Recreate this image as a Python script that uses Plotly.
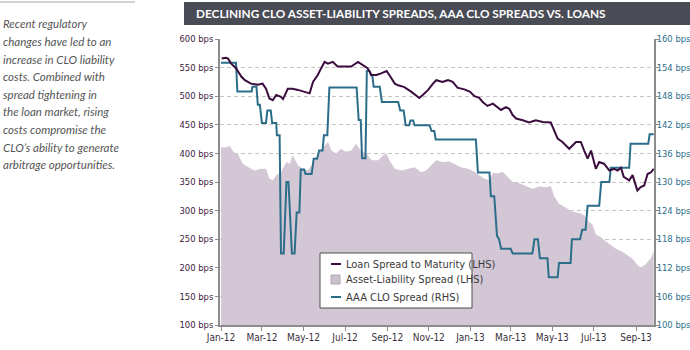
import plotly.graph_objects as go

# ---------------- data ----------------
loan_dates = ["2012-01-02","2012-01-08","2012-01-11","2012-01-16","2012-01-23","2012-01-31","2012-02-05","2012-02-14",
    "2012-02-24","2012-03-02","2012-03-07","2012-03-12","2012-03-17","2012-03-22","2012-03-29","2012-04-01","2012-04-08",
    "2012-04-15","2012-04-23","2012-05-02","2012-05-10","2012-05-15","2012-05-22","2012-05-27","2012-06-01","2012-06-06",
    "2012-06-13","2012-06-20","2012-06-30","2012-07-10","2012-07-20","2012-07-27","2012-08-03","2012-08-09","2012-08-16",
    "2012-08-23","2012-08-31","2012-09-04","2012-09-12","2012-09-17","2012-09-26","2012-10-06","2012-10-13","2012-10-18",
    "2012-10-23","2012-10-31","2012-11-07","2012-11-12","2012-11-21","2012-11-29","2012-12-06","2012-12-13","2012-12-23",
    "2012-12-31","2013-01-07","2013-01-14","2013-01-19","2013-01-26","2013-02-03","2013-02-10","2013-02-15","2013-02-22",
    "2013-02-27","2013-03-04","2013-03-09","2013-03-19","2013-03-28","2013-04-07","2013-04-17","2013-04-29","2013-05-04",
    "2013-05-09","2013-05-16","2013-05-26","2013-06-05","2013-06-12","2013-06-17","2013-06-22","2013-06-27","2013-07-04",
    "2013-07-09","2013-07-16","2013-07-24","2013-07-31","2013-08-05","2013-08-10","2013-08-14","2013-08-22","2013-08-27",
    "2013-09-03","2013-09-08","2013-09-13","2013-09-18","2013-09-23","2013-09-27"]
loan_spread = [566,567,566,557,549,534,528,522,520,522,513,496,493,502,499,495,513,513,511,508,505,525,537,549,560,557,
    560,552,552,552,560,554,549,537,537,540,544,537,522,519,516,508,502,497,502,511,522,528,525,528,525,515,512,508,
    500,497,490,483,487,480,476,481,478,467,461,458,454,458,455,454,441,426,420,408,420,420,405,391,405,373,385,382,
    370,373,370,375,359,353,362,335,341,344,364,367,373]

al_dates = ["2012-01-01","2012-01-06","2012-01-14","2012-01-19","2012-01-26","2012-02-02","2012-02-10","2012-02-19",
    "2012-02-29","2012-03-07","2012-03-12","2012-03-17","2012-03-22","2012-03-29","2012-04-06","2012-04-11","2012-04-15",
    "2012-04-23","2012-04-30","2012-05-07","2012-05-15","2012-05-22","2012-06-01","2012-06-06","2012-06-11","2012-06-18",
    "2012-06-25","2012-07-02","2012-07-10","2012-07-17","2012-07-24","2012-08-01","2012-08-09","2012-08-19","2012-08-26",
    "2012-08-31","2012-09-04","2012-09-12","2012-09-22","2012-10-01","2012-10-11","2012-10-21","2012-10-28","2012-11-04",
    "2012-11-12","2012-11-21","2012-12-01","2012-12-08","2012-12-18","2012-12-28","2013-01-07","2013-01-14","2013-01-21",
    "2013-01-29","2013-02-03","2013-02-10","2013-02-17","2013-02-24","2013-03-04","2013-03-14","2013-03-23","2013-04-02",
    "2013-04-12","2013-04-22","2013-04-29","2013-05-04","2013-05-11","2013-05-21","2013-05-31","2013-06-10","2013-06-17",
    "2013-06-24","2013-06-29","2013-07-04","2013-07-11","2013-07-19","2013-07-26","2013-08-03","2013-08-12","2013-08-20",
    "2013-08-27","2013-09-03","2013-09-08","2013-09-15","2013-09-23","2013-09-27"]
al_spread = [411,410,413,403,398,382,376,370,373,373,356,353,362,367,385,382,397,379,373,370,382,397,414,420,405,400,
    408,403,405,417,405,400,388,388,397,400,388,373,370,373,376,367,370,379,388,385,386,382,376,373,368,362,356,353,
    366,365,368,360,350,348,343,338,342,341,343,325,312,305,298,296,292,280,276,258,254,246,240,233,228,222,216,205,
    200,206,217,229]

clo_dates = ["2012-01-01","2012-01-23","2012-01-25","2012-02-15","2012-02-16","2012-02-22","2012-02-24","2012-02-27",
    "2012-03-01","2012-03-07","2012-03-09","2012-03-14","2012-03-16","2012-03-22","2012-03-23","2012-03-27","2012-03-29",
    "2012-04-02","2012-04-06","2012-04-09","2012-04-14","2012-04-18","2012-04-21","2012-04-25","2012-04-27","2012-05-02",
    "2012-05-04","2012-05-13","2012-05-16","2012-05-21","2012-05-24","2012-05-29","2012-05-31","2012-06-05","2012-06-08",
    "2012-07-18","2012-07-21","2012-07-24","2012-07-26","2012-07-31","2012-08-02","2012-08-06","2012-08-08","2012-08-10",
    "2012-08-12","2012-08-21","2012-08-24","2012-09-17","2012-09-20","2012-09-25","2012-09-28","2012-10-03","2012-10-05",
    "2012-10-09","2012-10-11","2012-11-02","2012-11-05","2012-11-09","2012-11-11","2013-01-09","2013-01-12","2013-01-29",
    "2013-01-31","2013-02-05","2013-02-09","2013-02-12","2013-02-15","2013-03-01","2013-03-04","2013-04-02","2013-04-05",
    "2013-04-10","2013-04-13","2013-04-24","2013-04-26","2013-05-09","2013-05-11","2013-05-28","2013-05-30","2013-06-11",
    "2013-06-14","2013-06-19","2013-06-22","2013-07-09","2013-07-12","2013-07-24","2013-07-26","2013-08-22","2013-08-24",
    "2013-09-19","2013-09-21","2013-09-27"]
clo_spread = [155,155,149,149,150,150,146.2,146.2,142.4,142.4,145,145,142.4,142.4,139.8,139.8,115,115,130,130,115,115,
    123.6,123.6,132.6,132.6,131.7,131.7,134.9,134.9,136.6,136.6,139.8,139.8,149.8,149.8,143,143,135,135,153.3,153.3,
    152.4,152.4,150,150,146.8,146.8,145,145,141.9,141.9,142.9,142.9,141.9,141.9,140.7,140.7,138.9,138.9,132,132,127,
    127,118.7,118,116,116,115,115,118,118,114,114,110,110,113,113,118,118,120,120,125,125,130,130,133,133,138,138,
    140,140]

title_text = "DECLINING CLO ASSET-LIABILITY SPREADS, AAA CLO SPREADS VS. LOANS"
side_lines = ["Recent regulatory", "changes have led to an", "increase in CLO liability",
              "costs. Combined with", "spread tightening in", "the loan market, rising",
              "costs compromise the", "CLO\u2019s ability to generate", "arbitrage opportunities."]
legend_names = ["Loan Spread to Maturity (LHS)", "Asset-Liability Spread (LHS)", "AAA CLO Spread (RHS)"]

# ---------------- style ----------------
PURPLE = "#3b0c3e"
TEAL = "#2c6e8a"
AREA = "#d3c7d5"
GRID = "#c4c4c4"
NARROW = "Liberation Sans Narrow, DejaVu Sans Condensed, Arial Narrow, sans-serif"

PL, PR, PT, PB = 220, 654, 39, 325
W, H = PR - PL, PB - PT
def fx(p): return (p - PL) / W
def fy(p): return (PB - p) / H

fig = go.Figure()
fig.add_trace(go.Scatter(x=al_dates, y=al_spread, name=legend_names[1], mode="lines",
                         line=dict(width=0, color=AREA), fill="tozeroy", fillcolor=AREA,
                         yaxis="y", showlegend=False))
fig.add_trace(go.Scatter(x=clo_dates, y=clo_spread, name=legend_names[2], mode="lines",
                         line=dict(width=2, color=TEAL), yaxis="y2", showlegend=False))
fig.add_trace(go.Scatter(x=loan_dates, y=loan_spread, name=legend_names[0], mode="lines",
                         line=dict(width=2, color=PURPLE), yaxis="y3", showlegend=False))

yfont = dict(family=NARROW, size=9.4)
fig.update_layout(
    template="none",
    width=690, height=350,
    margin=dict(l=PL, r=690 - PR, t=PT, b=350 - PB),
    paper_bgcolor="white", plot_bgcolor="white",
    xaxis=dict(type="date", range=["2011-12-30 12:00", "2013-09-27 10:00"],
               tick0="2012-01-01", dtick="M2", tickformat="%b-%y",
               ticks="outside", ticklen=4, tickcolor="#8c8c8c",
               showline=True, linecolor="#8c8c8c", linewidth=1.5,
               showgrid=False, zeroline=False, ticklabelstandoff=-2,
               tickfont=dict(color="#3a3040", family=NARROW, size=10)),
    yaxis=dict(range=[100, 600], tick0=100, dtick=50, ticksuffix=" bps",
               ticks="outside", ticklen=3, tickcolor="#8c8c8c",
               showline=True, linecolor="#8c8c8c", linewidth=1.5,
               showgrid=True, gridcolor=GRID, griddash="4px,3px", gridwidth=1,
               zeroline=False, ticklabelstandoff=0,
               tickfont=dict(color="#3d1a40", **yfont)),
    yaxis2=dict(range=[100, 160], tick0=100, dtick=6, ticksuffix=" bps", side="right", overlaying="y",
                ticks="outside", ticklen=3, tickcolor="#8c8c8c",
                showline=True, linecolor="#8c8c8c", linewidth=1.5,
                showgrid=False, zeroline=False, ticklabelstandoff=-4,
                tickfont=dict(color=TEAL, **yfont)),
    yaxis3=dict(range=[100, 600], overlaying="y", visible=False, showgrid=False),
)

shapes = []
annotations = []
# title bar
shapes.append(dict(type="rect", xref="paper", yref="paper", x0=fx(184), x1=fx(690), y0=fy(25), y1=fy(2),
                   fillcolor="#4a4c55", line=dict(width=0), layer="above"))
annotations.append(dict(text="<b>" + title_text + "</b>", xref="paper", yref="paper", x=fx(194), y=fy(13.5),
                        xanchor="left", yanchor="middle", showarrow=False,
                        font=dict(family="Lato, sans-serif", size=11.8, color="white")))
# side rule and text
shapes.append(dict(type="line", xref="paper", yref="paper", x0=fx(0), x1=fx(135), y0=fy(2), y1=fy(2),
                   line=dict(color="#c4c4c4", width=1.5)))
for i, line in enumerate(side_lines):
    annotations.append(dict(text="<i>" + line + "</i>", xref="paper", yref="paper", x=fx(1), y=fy(24 + i * 17.6),
                            xanchor="left", yanchor="middle", showarrow=False,
                            font=dict(family="Lato, sans-serif", size=11.5, color="#555555")))
# legend box
shapes.append(dict(type="rect", xref="paper", yref="paper", x0=fx(320), x1=fx(472), y0=fy(308), y1=fy(253),
                   fillcolor="white", line=dict(color="#4d4d4d", width=1), layer="above"))
shapes.append(dict(type="line", xref="paper", yref="paper", x0=fx(331), x1=fx(341), y0=fy(264), y1=fy(264),
                   line=dict(color=PURPLE, width=2), layer="above"))
shapes.append(dict(type="rect", xref="paper", yref="paper", x0=fx(331), x1=fx(340), y0=fy(284), y1=fy(275),
                   fillcolor="#c9c0cb", line=dict(color="#b0a8b2", width=1), layer="above"))
shapes.append(dict(type="line", xref="paper", yref="paper", x0=fx(331), x1=fx(341), y0=fy(297), y1=fy(297),
                   line=dict(color=TEAL, width=2), layer="above"))
for name, yy in zip(legend_names, [264, 279.5, 297]):
    annotations.append(dict(text=name, xref="paper", yref="paper", x=fx(344), y=fy(yy),
                            xanchor="left", yanchor="middle", showarrow=False,
                            font=dict(family=NARROW, size=11, color="#3a3a3a")))

fig.update_layout(shapes=shapes, annotations=annotations)
fig.write_html("out.html")
